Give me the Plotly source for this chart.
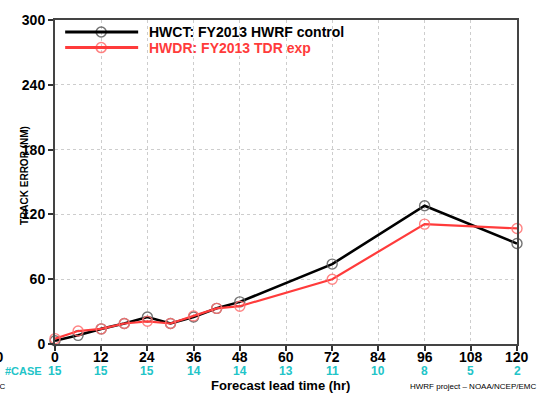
import plotly.graph_objects as go

# Forecast lead times (hr) and mean track errors (NM)
hours = [0, 6, 12, 18, 24, 30, 36, 42, 48, 72, 96, 120]
hwct_err = [3, 8, 14, 19, 25, 19, 25, 33, 39, 74, 128, 93]
hwdr_err = [5, 12, 14, 19, 21, 19, 26, 33, 35, 60, 111, 107]

# Verification sample size at each labelled lead time
case_hours = [0, 12, 24, 36, 48, 60, 72, 84, 96, 108, 120]
case_counts = [15, 15, 15, 14, 14, 13, 11, 10, 8, 5, 2]

y_ticks = [0, 60, 120, 180, 240, 300]

series = [
    ("HWCT: FY2013 HWRF control", hwct_err, "black", "rgba(90,90,90,0.85)", 2.6),
    ("HWDR: FY2013 TDR exp", hwdr_err, "#ff3b3b", "rgba(255,110,110,0.85)", 2.2),
]

fig = go.Figure()
for name, vals, lc, mc, lw in series:
    fig.add_trace(go.Scatter(
        x=hours, y=vals, mode="lines+markers", name=name,
        line=dict(color=lc, width=lw),
        marker=dict(symbol="circle-open", size=10, color=mc, line=dict(width=1.4, color=mc)),
        showlegend=False, cliponaxis=False,
    ))

font_main = "Liberation Sans, Arial, sans-serif"
tick_font = dict(size=14, family=font_main, color="black", weight="bold")

fig.update_layout(
    width=543, height=395,
    margin=dict(l=55, r=26, t=13, b=51),
    paper_bgcolor="white", plot_bgcolor="white",
    font=dict(family=font_main, color="black"),
    xaxis=dict(
        range=[0, 120], tickvals=case_hours, showticklabels=False,
        showgrid=True, gridcolor="rgb(205,205,205)", griddash="dot", gridwidth=1,
        zeroline=False, showline=True, linecolor="#444", linewidth=2, mirror=True,
        ticks="outside", ticklen=5, tickwidth=1.5, tickcolor="#333",
    ),
    yaxis=dict(
        range=[0, 300], tickvals=y_ticks, ticktext=[str(v) for v in y_ticks],
        showgrid=True, gridcolor="rgb(205,205,205)", griddash="dot", gridwidth=1,
        zeroline=False, showline=True, linecolor="#444", linewidth=2, mirror=True,
        ticks="outside", ticklen=5, tickwidth=1.5, tickcolor="#333",
        tickfont=tick_font,
    ),
)

# Lead-time labels set close under the axis, with the case counts below them
for h, c in zip(case_hours, case_counts):
    fig.add_annotation(xref="x", yref="paper", x=h, y=-0.04, text=str(h),
                       showarrow=False, yanchor="middle", font=tick_font)
    fig.add_annotation(xref="x", yref="paper", x=h, y=-0.082, text=f"<b>{c}</b>",
                       showarrow=False, yanchor="middle",
                       font=dict(size=12, color="#22c4c8", family=font_main))
fig.add_annotation(xref="paper", yref="paper", x=-0.024, y=-0.082, text="<b>#CASE</b>",
                   showarrow=False, xanchor="right", yanchor="middle",
                   font=dict(size=11, color="#22c4c8", family=font_main))

# Key drawn inside the frame: line, open circle, bold label
key_y = [0.963, 0.915]
for (name, vals, lc, mc, lw), ky in zip(series, key_y):
    fig.add_shape(type="line", xref="paper", yref="paper",
                  x0=0.022, x1=0.18, y0=ky, y1=ky, line=dict(color=lc, width=3))
    fig.add_trace(go.Scatter(
        x=[0.1], y=[ky], xaxis="x2", yaxis="y2", mode="markers",
        marker=dict(symbol="circle-open", size=10, color=mc, line=dict(width=1.6, color=mc)),
        showlegend=False, hoverinfo="skip",
    ))
    fig.add_annotation(xref="paper", yref="paper", x=0.2, y=ky, text=f"<b>{name}</b>",
                       showarrow=False, xanchor="left", yanchor="middle",
                       font=dict(size=14, color=lc, family=font_main))

fig.update_layout(
    xaxis2=dict(range=[0, 1], overlaying="x", visible=False, domain=[0, 1]),
    yaxis2=dict(range=[0, 1], overlaying="y", visible=False),
)

fig.add_annotation(xref="paper", yref="paper", x=0.489, y=-0.127,
                   text="<b>Forecast lead time (hr)</b>", showarrow=False, yanchor="middle",
                   font=dict(size=13, color="black", family=font_main))
fig.add_annotation(xref="paper", yref="paper", x=1.045, y=-0.132,
                   text="HWRF project \u2013 NOAA/NCEP/EMC", showarrow=False,
                   xanchor="right", yanchor="middle",
                   font=dict(size=8, color="black", family=font_main))
fig.add_annotation(xref="paper", yref="paper", x=-0.103, y=-0.132,
                   text="NCEP/EMC", showarrow=False, xanchor="right", yanchor="middle",
                   font=dict(size=8, color="black", family=font_main))
fig.add_annotation(xref="paper", yref="paper", x=-0.106, y=-0.04,
                   text="<b>120</b>", showarrow=False, xanchor="right", yanchor="middle",
                   font=dict(size=14, color="black", family=font_main))

fig.add_annotation(xref="paper", yref="paper", x=-0.066, y=0.52,
                   text="<b>TRACK ERROR (NM)</b>", textangle=-90, showarrow=False,
                   xanchor="center", yanchor="middle",
                   font=dict(size=10, color="black", family=font_main))

fig.write_html("out.html")
